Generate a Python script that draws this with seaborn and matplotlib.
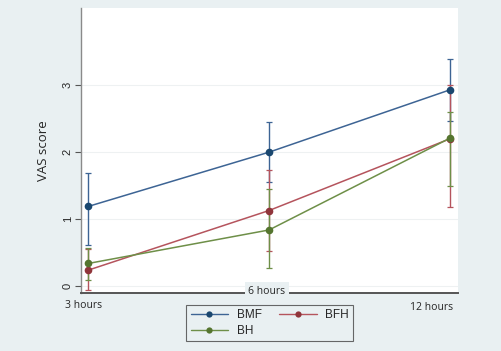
import numpy as np
import pandas as pd
import seaborn as sns
import matplotlib
matplotlib.use("Agg")
import matplotlib.pyplot as plt
from matplotlib.lines import Line2D

times = ["3 hours", "6 hours", "12 hours"]
groups = ["BMF", "BFH", "BH"]
bmf_mean = [1.19, 2.00, 2.93]
bmf_lo = [0.62, 1.55, 2.47]
bmf_hi = [1.69, 2.45, 3.39]
bfh_mean = [0.24, 1.13, 2.20]
bfh_lo = [-0.05, 0.53, 1.18]
bfh_hi = [0.55, 1.73, 3.00]
bh_mean = [0.34, 0.84, 2.21]
bh_lo = [0.10, 0.28, 1.49]
bh_hi = [0.57, 1.45, 2.60]
colors = ["#1a476f", "#90353b", "#55752f"]
line_colors = ["#3d6494", "#b5545d", "#6e8f48"]

BG = "#e9f0f2"
sns.set_theme(style="white")
plt.rcParams["font.family"] = ["Liberation Sans", "DejaVu Sans"]

rows = []
for g, m, lo, hi in [("BMF", bmf_mean, bmf_lo, bmf_hi),
                     ("BFH", bfh_mean, bfh_lo, bfh_hi),
                     ("BH", bh_mean, bh_lo, bh_hi)]:
    for i, t in enumerate(times):
        rows.append({"group": g, "time": t, "x": i, "mean": m[i], "lo": lo[i], "hi": hi[i]})
df = pd.DataFrame(rows)

fig = plt.figure(figsize=(5.02, 3.51), dpi=100, facecolor=BG)
ax = fig.add_axes([81/502, 1-293/351, (458-81)/502, (293-8)/351])
ax.set_facecolor("white")

for y in [0, 1, 2, 3]:
    ax.axhline(y, color="#eef1f2", lw=0.8, zorder=0)

for g, c in zip(groups, line_colors):
    d = df[df.group == g]
    ax.errorbar(d["x"], d["mean"],
                yerr=[d["mean"] - d["lo"], d["hi"] - d["mean"]],
                fmt="none", ecolor=c, elinewidth=1.0, capsize=2, capthick=0.9, zorder=2)

sns.lineplot(data=df, x="x", y="mean", hue="group", hue_order=groups,
             palette=dict(zip(groups, line_colors)), marker="o", markersize=5.5,
             markeredgewidth=0, linewidth=1.1, ax=ax, legend=False, zorder=3)
for line, c in zip(ax.lines[-3:], colors):
    line.set_markerfacecolor(c)

ax.set_xlim(-0.039, 2.044)
ax.set_ylim(-0.1, 4.15)
ax.set_yticks([0, 1, 2, 3])
ax.set_yticklabels(["0", "1", "2", "3"], rotation=90, va="center", fontsize=8)
ax.tick_params(axis="y", length=4, width=0.8, color="#555555", pad=2, left=True)
ax.set_xticks([0, 1, 2])
ax.set_xticklabels([])
ax.tick_params(axis="x", length=0)
ax.set_xlabel("")
ax.set_ylabel("VAS score", fontsize=9.5, family=["Open Sans", "DejaVu Sans"], labelpad=9)

for s in ["top", "right"]:
    ax.spines[s].set_visible(False)
ax.spines["left"].set_color("#8a8a8a")
ax.spines["left"].set_linewidth(1.0)
ax.spines["bottom"].set_color("#555555")
ax.spines["bottom"].set_linewidth(1.4)

fig.text(84/502, 1-305/351, times[0], ha="center", va="center", fontsize=7.5,
         family=["Open Sans", "DejaVu Sans"])
fig.text(267/502, 1-291/351, times[1], ha="center", va="center", fontsize=7.5,
         family=["Open Sans", "DejaVu Sans"],
         bbox=dict(boxstyle="square,pad=0.35", fc=BG, ec="none"))
fig.text(432/502, 1-307/351, times[2], ha="center", va="center", fontsize=7.5,
         family=["Open Sans", "DejaVu Sans"])

handles = [Line2D([0], [0], color=lc, marker="o", markerfacecolor=c, markeredgewidth=0,
                  markersize=4.5, lw=1.0) for lc, c in zip(line_colors, colors)]
order = [0, 2, 1]
leg = fig.legend([handles[i] for i in order], [groups[i] for i in order], ncol=2, loc="center",
                 bbox_to_anchor=(269.5/502, 1-323/351), frameon=True, fontsize=8.5,
                 handlelength=3.2, columnspacing=1.45, handletextpad=0.7,
                 borderpad=0.35, labelspacing=0.3, fancybox=False, borderaxespad=0)
leg.get_frame().set_facecolor(BG)
leg.get_frame().set_edgecolor("#444444")
leg.get_frame().set_linewidth(0.8)

fig.savefig("out.png", dpi=100, facecolor=BG)
